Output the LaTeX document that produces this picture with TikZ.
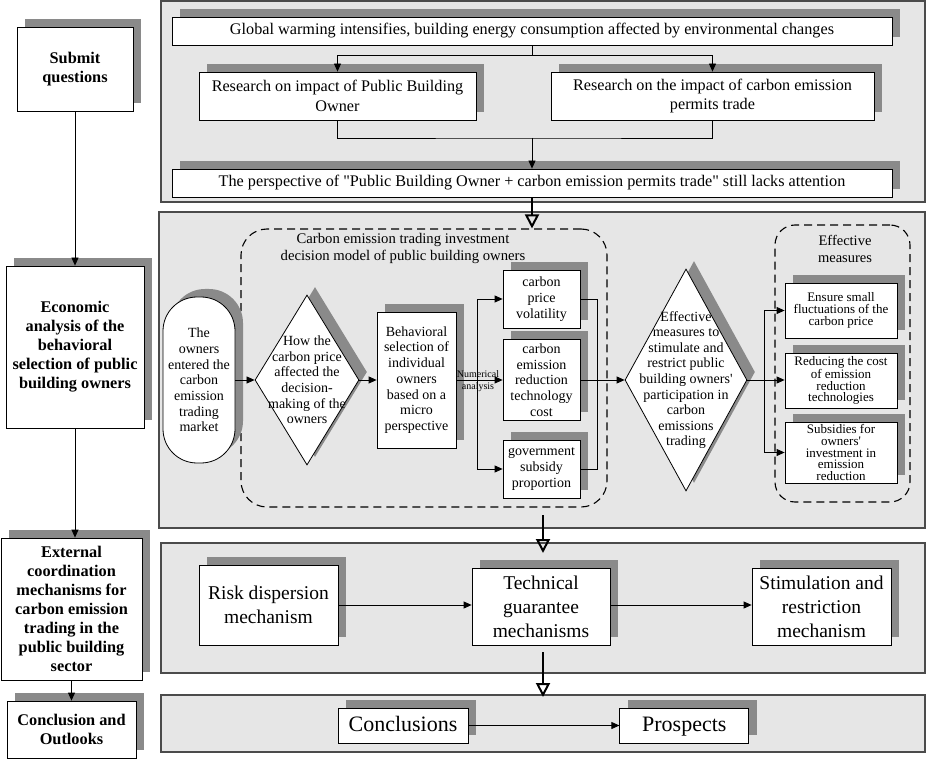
\documentclass[tikz,border=0pt]{standalone}
\usepackage{fontspec}
\setmainfont{Liberation Serif}[Ligatures=TeXOff]
\usepackage{tikz}
\usetikzlibrary{positioning,arrows.meta,shapes.geometric,shadows,calc}
\definecolor{panelgray}{RGB}{230,230,230}
\definecolor{shadowgray}{RGB}{138,138,138}
\definecolor{framegray}{RGB}{75,75,75}

\begin{document}
\begin{tikzpicture}[
  x=1pt, y=-1pt,
  sz/.style 2 args={minimum width=#1pt, minimum height=#2pt},
  panel/.style={draw=framegray, line width=1.1pt, fill=panelgray, inner sep=0pt},
  dropsh/.style={drop shadow={shadow xshift=8pt, shadow yshift=8pt,
                 fill=shadowgray, opacity=1}},
  stage/.style={draw, line width=0.8pt, fill=white, dropsh, align=center,
                inner sep=0pt, font=\fontsize{16.3}{19}\selectfont\bfseries},
  box/.style={draw, line width=0.8pt, fill=white, dropsh, align=center,
              inner sep=0pt, font=\fontsize{16.2}{19.5}\selectfont},
  midbox/.style={box, font=\fontsize{14}{15.7}\selectfont},
  smallbox/.style={box, font=\fontsize{13}{11.8}\selectfont},
  bigbox/.style={box, font=\fontsize{19.5}{24}\selectfont},
  hugebox/.style={box, font=\fontsize{22}{26}\selectfont, text height=16pt, text depth=5pt},
  dia/.style={draw, line width=0.8pt, fill=white, dropsh, diamond, inner sep=0pt},
  diatext/.style={align=center, inner sep=0pt, font=\fontsize{14}{15.6}\selectfont},
  group/.style={draw, dash pattern=on 8pt off 5pt, line width=1.1pt,
                rounded corners=26pt, inner sep=0pt},
  grouptitle/.style={align=center, inner sep=0pt, font=\fontsize{14.7}{17}\selectfont},
  arr/.style={-{Triangle[length=8pt,width=7pt]}, line width=0.8pt},
  flow/.style={-{Triangle[open,length=14pt,width=14pt]}, line width=2pt}
]
\useasboundingbox (0,0) rectangle (927,759);
% background panels
\node[panel, sz={764}{201}] (pA) at (543,101.5) {};
\node[panel, sz={766}{316}] (pB) at (542,370) {};
\node[panel, sz={764}{130}] (pC) at (543,608) {};
\node[panel, sz={764}{57}]  (pD) at (543,723.5) {};

% left column: stages
\node[stage, sz={116}{84}]  (submit) at (75,69) {Submit\\questions};
\node[stage, sz={138}{162}] (econ)   at (75,347) {Economic\\analysis of the\\behavioral\\selection of public\\building owners};
\node[stage, sz={141}{142}] (extern) at (71.5,609) {External\\coordination\\mechanisms for\\carbon emission\\trading in the\\public building\\sector};
\node[stage, sz={129}{57}]  (concl)  at (71.5,729.5) {Conclusion and\\Outlooks};

\draw[arr] (submit) -- (econ);
\draw[arr] (econ.south) -- (econ.south |- extern.north);
\draw[arr] (extern.south) -- (concl.north);

% panel A: submit questions
\node[box, sz={720}{28}]  (global) at (532,31) {Global warming intensifies, building energy consumption affected by environmental changes};
\node[box, sz={277}{48}]  (rpbo)   at (337.5,96) {Research on impact of Public Building\\Owner};
\node[box, sz={323}{48}]  (rcet)   at (712.5,96) {Research on the impact of carbon emission\\permits trade};
\node[box, sz={720}{28}]  (persp)  at (532,183) {The perspective of "Public Building Owner + carbon emission permits trade" still lacks attention};

\draw[arr] (global.south) -- ++(0,10) -| (rpbo.north);
\draw[arr] (global.south) -- ++(0,10) -| (rcet.north);
\coordinate (join) at (532,138);
\draw (rpbo.south) |- (join) -| (rcet.south);
\draw[arr] (join) -- (persp.north);

% panel B: economic analysis
\node[group, sz={366}{278}] (model) at (424,368) {};
\node[grouptitle] (modeltitle) at (403,248) {Carbon emission trading investment\\decision model of public building owners};
\node[group, rounded corners=20pt, sz={135}{277}] (effgrp) at (842.5,363.5) {};
\node[grouptitle, font=\fontsize{14.5}{16.5}\selectfont] (efftitle) at (845,249) {Effective\\measures};

\node[midbox, rounded corners=34pt, sz={72}{166}] (entered) at (199,380) {The\\owners\\entered the\\carbon\\emission\\trading\\market};
\node[dia, sz={104}{170}, label={[diatext]center:{How the\\carbon price\\affected the\\decision-\\making of the\\owners}}] (howdia) at (307,380) {};
\node[midbox, sz={79}{136}] (behav) at (416.5,380) {Behavioral\\selection of\\individual\\owners\\based on a\\micro\\perspective};

\node[midbox, sz={77}{58}] (vol)  at (541.5,299) {carbon\\price\\volatility};
\node[midbox, sz={77}{81}] (cost) at (541.5,380) {carbon\\emission\\reduction\\technology\\cost};
\node[midbox, sz={77}{58}] (subs) at (541.5,469) {government\\subsidy\\proportion};

\node[dia, sz={122}{222}, label={[diatext]center:{Effective\\measures to\\stimulate and\\restrict public\\building owners'\\participation in\\carbon\\emissions\\trading}}] (effdia) at (686,380) {};

\node[smallbox, sz={112}{55}] (ens) at (841,310.5) {Ensure small\\fluctuations of the\\carbon price};
\node[smallbox, sz={112}{55}] (red) at (841,380.5) {Reducing the cost\\of emission\\reduction\\technologies};
\node[smallbox, sz={112}{61}] (sub2) at (841,452.5) {Subsidies for\\owners'\\investment in\\emission\\reduction};

\draw[arr] (entered) -- (howdia);
\draw[arr] (howdia) -- (behav);
\coordinate (br1) at (477,380);
\draw (behav.east) -- (br1);
\draw[arr] (br1) |- (vol.west);
\draw[arr] (br1) -- (cost.west);
\draw[arr] (br1) |- (subs.west);
\node[align=center, inner sep=0pt, font=\fontsize{10}{12}\selectfont] (numlab) at (478,381) {Numerical\\analysis};
\coordinate (mg) at (597,380);
\draw (vol.east) -| (mg);
\draw (subs.east) -| (mg);
\draw[arr] (cost.east) -- (effdia.west);
\coordinate (br2) at (764,380);
\draw (effdia.east) -- (br2);
\draw[arr] (br2) |- (ens.west);
\draw[arr] (br2) -- (ens.west |- br2);
\draw[arr] (br2) |- (sub2.west);

% panel C: coordination mechanisms
\node[bigbox, sz={139}{80}] (risk) at (268.5,605) {Risk dispersion\\mechanism};
\node[bigbox, sz={138}{77}] (tech) at (541,606.5) {Technical\\guarantee\\mechanisms};
\node[bigbox, sz={139}{77}] (stim) at (821.5,606.5) {Stimulation and\\restriction\\mechanism};
\draw[arr] (risk.east) -- (risk.east -| tech.west);
\draw[arr] (risk.east -| tech.east) -- (risk.east -| stim.west);

% panel D: conclusions
\node[hugebox, sz={130}{35}] (concls) at (403,725.5) {Conclusions};
\node[hugebox, sz={129}{35}, right=151pt of concls] (prosp) {Prospects};
\draw[arr] (concls) -- (prosp);

% flow between panels
\draw[flow] (persp.south) -- (persp.south |- model.north);
\coordinate (gapB1) at (543,515);
\coordinate (gapB2) at (543,553);
\draw[flow] (gapB1) -- (gapB2);
\coordinate (gapC1) at (543,652);
\coordinate (gapC2) at (543,697);
\draw[flow] (gapC1) -- (gapC2);
\end{tikzpicture}
\end{document}
